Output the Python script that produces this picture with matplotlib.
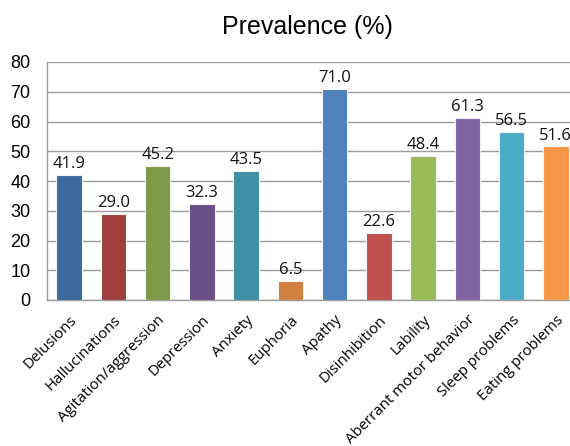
import numpy as np
import matplotlib.pyplot as plt

# symptom categories and prevalence values (%)
categories = ['Delusions', 'Hallucinations', 'Agitation/aggression', 'Depression',
              'Anxiety', 'Euphoria', 'Apathy', 'Disinhibition', 'Lability',
              'Aberrant motor behavior', 'Sleep problems', 'Eating problems']
prevalence = [41.9, 29.0, 45.2, 32.3, 43.5, 6.5, 71.0, 22.6, 48.4, 61.3, 56.5, 51.6]
yticks = [0, 10, 20, 30, 40, 50, 60, 70, 80]

colors = ['#3B6A9E', '#9E3F3E', '#7E9A48', '#684F86', '#3D8FA3', '#D07F3D',
          '#4F81BD', '#C0504D', '#9BBB59', '#8064A2', '#4BACC6', '#F79646']

fig = plt.figure(figsize=(5.7, 4.46), dpi=100)
# plot area runs a bit past the right edge of the figure
ax = fig.add_axes([47/570, 146/446, 531/570, 238/446])

x = np.arange(len(categories))
bars = ax.bar(x, prevalence, width=0.58, color=colors, edgecolor='#F2F2F2',
              linewidth=0.8, zorder=3)

for xi, v in zip(x, prevalence):
    ax.text(xi, v + 1.0, f'{v:.1f}', ha='center', va='bottom',
            fontsize=12, family='Open Sans', color='#111111', zorder=4)

ax.set_xlim(-0.5, len(categories) - 0.5)
ax.set_ylim(0, 80)
ax.set_yticks(yticks)
ax.set_yticklabels([str(t) for t in yticks], family='Liberation Sans', fontsize=13)
ax.yaxis.grid(True, color='#9C9C9C', linewidth=1.0, zorder=0)
ax.tick_params(axis='y', length=0, pad=12)
ax.tick_params(axis='x', length=0, pad=9)

ax.set_xticks(x)
ax.set_xticklabels(categories, rotation=45, ha='right', rotation_mode='anchor',
                   family='Open Sans', fontsize=10.8)

for side in ['top', 'right']:
    ax.spines[side].set_visible(False)
for side in ['left', 'bottom']:
    ax.spines[side].set_color('#9C9C9C')
    ax.spines[side].set_linewidth(1.0)

fig.text(307/570, 1 - 27/446, 'Prevalence (%)', ha='center', va='center',
         fontsize=18, family='Liberation Sans')

fig.savefig('out.png', dpi=100)
